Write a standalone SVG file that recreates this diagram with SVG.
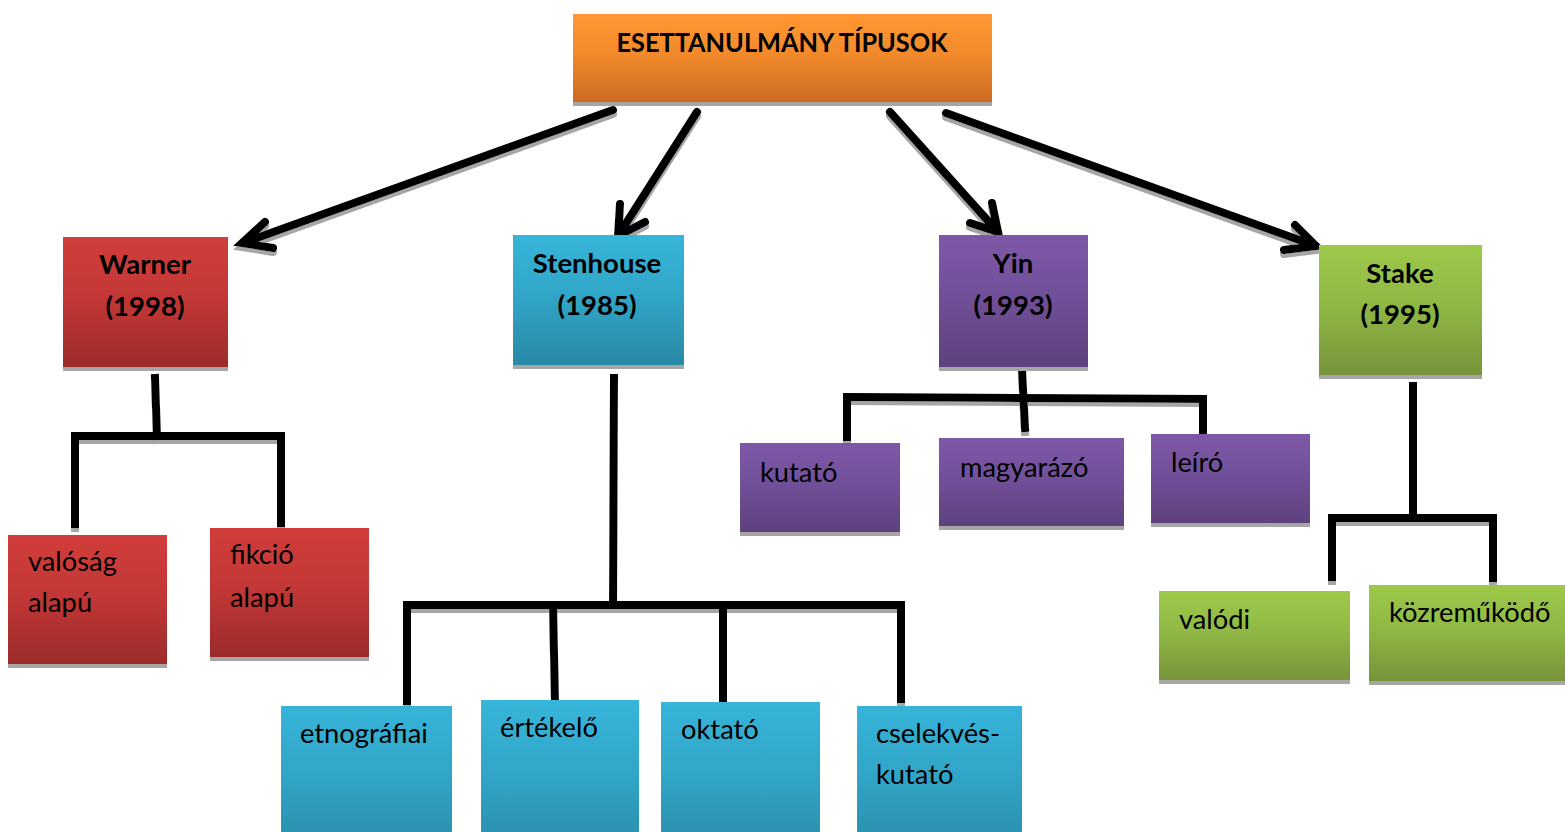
<svg xmlns="http://www.w3.org/2000/svg" xmlns:xlink="http://www.w3.org/1999/xlink" width="1565" height="832" viewBox="0 0 1565 832">
<style>
  .t { font-family: Lato, "Open Sans", "Liberation Sans", sans-serif; font-size: 27.3px; fill: #000; }
  .b { font-weight: bold; text-anchor: middle; font-size: 27.5px; }
  .sh { fill: #a6a6a6; }
  .ln { fill: none; stroke: #000; stroke-width: 8; stroke-linecap: square; }
  .ar { fill: none; stroke: #000; stroke-width: 8; stroke-linecap: round; stroke-linejoin: miter; }
</style>
<defs>
  <linearGradient id="gO" x1="0" y1="0" x2="0" y2="1"><stop offset="0" stop-color="#ff9832"/><stop offset="0.45" stop-color="#f28a2c"/><stop offset="1" stop-color="#cc6a20"/></linearGradient>
  <linearGradient id="gR" x1="0" y1="0" x2="0" y2="1"><stop offset="0" stop-color="#d13d3a"/><stop offset="0.45" stop-color="#c33836"/><stop offset="1" stop-color="#9c2b2b"/></linearGradient>
  <linearGradient id="gB" x1="0" y1="0" x2="0" y2="1"><stop offset="0" stop-color="#37b5da"/><stop offset="0.45" stop-color="#31a6c8"/><stop offset="1" stop-color="#2989a6"/></linearGradient>
  <linearGradient id="gBt" gradientUnits="userSpaceOnUse" x1="0" y1="700" x2="0" y2="860"><stop offset="0" stop-color="#37b5da"/><stop offset="0.45" stop-color="#31a6c8"/><stop offset="1" stop-color="#2989a6"/></linearGradient>
  <linearGradient id="gP" x1="0" y1="0" x2="0" y2="1"><stop offset="0" stop-color="#7e58a8"/><stop offset="0.45" stop-color="#71509a"/><stop offset="1" stop-color="#5d417c"/></linearGradient>
  <linearGradient id="gG" x1="0" y1="0" x2="0" y2="1"><stop offset="0" stop-color="#9dc94a"/><stop offset="0.45" stop-color="#90b845"/><stop offset="1" stop-color="#77943a"/></linearGradient>
  <filter id="drop" filterUnits="userSpaceOnUse" x="0" y="0" width="1565" height="832">
    <feOffset in="SourceAlpha" dx="0" dy="4" result="o"/>
    <feFlood flood-color="#a6a6a6"/>
    <feComposite in2="o" operator="in" result="s"/>
    <feMerge><feMergeNode in="s"/><feMergeNode in="SourceGraphic"/></feMerge>
  </filter>
</defs>
<rect width="1565" height="832" fill="#fff"/>

<g id="connectors" filter="url(#drop)">
  <!-- arrows from root -->
  <path class="ar" d="M613 110 L243 243 M265 222 L242 243 L273 248"/>
  <path class="ar" d="M697 112 L618 236 M620 204 L618 236 L645 222"/>
  <path class="ar" d="M890 112 L998 232 M992 203 L998 232 L970 223"/>
  <path class="ar" d="M946 113 L1316 246 M1295 225 L1316 246 L1284 250"/>
  <!-- Warner tree -->
  <path class="ln" d="M155 378 L157 436"/>
  <path class="ln" d="M75 436 L280 436"/>
  <path class="ln" d="M75 436 L75 524"/>
  <path class="ln" d="M281 436 L281 523"/>
  <!-- Stenhouse tree -->
  <path class="ln" d="M614 378 L613 604"/>
  <path class="ln" d="M408 605 L900 605"/>
  <path class="ln" d="M407 605 L407 701"/>
  <path class="ln" d="M553 605 L555 701"/>
  <path class="ln" d="M723 605 L723 699"/>
  <path class="ln" d="M901 605 L901 699"/>
  <!-- Yin tree -->
  <path class="ln" d="M1022 370 L1025 428"/>
  <path class="ln" d="M847 397 L1202 399"/>
  <path class="ln" d="M847 397 L847 437"/>
  <path class="ln" d="M1203 399 L1203 436"/>
  <!-- Stake tree -->
  <path class="ln" d="M1413 386 L1413 517"/>
  <path class="ln" d="M1332 518 L1493 518"/>
  <path class="ln" d="M1332 518 L1332 577"/>
  <path class="ln" d="M1493 518 L1493 578"/>
</g>

<g id="root">
  <rect class="sh" x="573" y="18" width="419" height="88"/>
  <rect x="573" y="14" width="419" height="88" fill="url(#gO)"/>
  <text class="t b" x="782" y="52" textLength="331" lengthAdjust="spacingAndGlyphs">ESETTANULMÁNY TÍPUSOK</text>
</g>

<g id="warner">
  <rect class="sh" x="63" y="241" width="165" height="130"/>
  <rect x="63" y="237" width="165" height="130" fill="url(#gR)"/>
  <text class="t b" x="145" y="274">Warner</text>
  <text class="t b" x="145" y="316">(1998)</text>
</g>
<g id="stenhouse">
  <rect class="sh" x="513" y="239" width="171" height="130"/>
  <rect x="513" y="235" width="171" height="130" fill="url(#gB)"/>
  <text class="t b" x="597" y="273">Stenhouse</text>
  <text class="t b" x="597" y="315">(1985)</text>
</g>
<g id="yin">
  <rect class="sh" x="939" y="239" width="149" height="132"/>
  <rect x="939" y="235" width="149" height="132" fill="url(#gP)"/>
  <text class="t b" x="1013" y="273">Yin</text>
  <text class="t b" x="1013" y="315">(1993)</text>
</g>
<g id="stake">
  <rect class="sh" x="1319" y="249" width="163" height="130"/>
  <rect x="1319" y="245" width="163" height="130" fill="url(#gG)"/>
  <text class="t b" x="1400" y="283">Stake</text>
  <text class="t b" x="1400" y="324">(1995)</text>
</g>

<g id="valosag-alapu">
  <rect class="sh" x="8" y="539" width="159" height="129"/>
  <rect x="8" y="535" width="159" height="129" fill="url(#gR)"/>
  <text class="t" x="28" y="571">valóság</text>
  <text class="t" x="28" y="612">alapú</text>
</g>
<g id="fikcio-alapu">
  <rect class="sh" x="210" y="532" width="159" height="129"/>
  <rect x="210" y="528" width="159" height="129" fill="url(#gR)"/>
  <text class="t" x="230" y="564">fikció</text>
  <text class="t" x="230" y="607">alapú</text>
</g>

<g id="etnografiai">
  <rect x="281" y="706" width="171" height="130" fill="url(#gBt)"/>
  <text class="t" x="300" y="743">etnográfiai</text>
</g>
<g id="ertekelo">
  <rect x="481" y="700" width="158" height="136" fill="url(#gBt)"/>
  <text class="t" x="500" y="737">értékelő</text>
</g>
<g id="oktato">
  <rect x="661" y="702" width="159" height="134" fill="url(#gBt)"/>
  <text class="t" x="681" y="739">oktató</text>
</g>
<g id="cselekveskutato">
  <rect x="857" y="706" width="165" height="130" fill="url(#gBt)"/>
  <text class="t" x="876" y="743">cselekvés-</text>
  <text class="t" x="876" y="784">kutató</text>
</g>

<g id="kutato">
  <rect class="sh" x="740" y="447" width="160" height="89"/>
  <rect x="740" y="443" width="160" height="89" fill="url(#gP)"/>
  <text class="t" x="760" y="482">kutató</text>
</g>
<g id="magyarazo">
  <rect class="sh" x="939" y="442" width="185" height="88"/>
  <rect x="939" y="438" width="185" height="88" fill="url(#gP)"/>
  <text class="t" x="960" y="477">magyarázó</text>
</g>
<g id="leiro">
  <rect class="sh" x="1151" y="438" width="159" height="89"/>
  <rect x="1151" y="434" width="159" height="89" fill="url(#gP)"/>
  <text class="t" x="1171" y="472">leíró</text>
</g>

<g id="valodi">
  <rect class="sh" x="1159" y="595" width="191" height="89"/>
  <rect x="1159" y="591" width="191" height="89" fill="url(#gG)"/>
  <text class="t" x="1179" y="629">valódi</text>
</g>
<g id="kozremukodo">
  <rect class="sh" x="1369" y="589" width="196" height="96"/>
  <rect x="1369" y="585" width="196" height="96" fill="url(#gG)"/>
  <text class="t" x="1389" y="622">közreműködő</text>
</g>
</svg>
